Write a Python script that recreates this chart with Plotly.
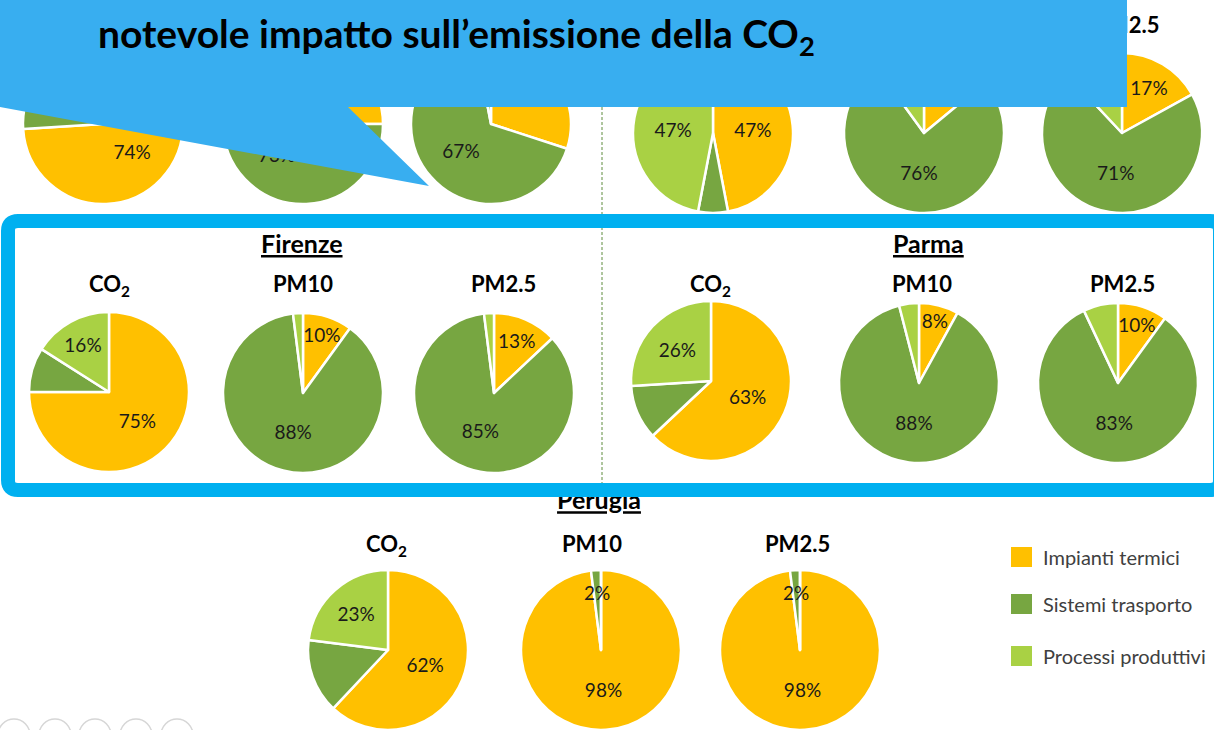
import math
import plotly.graph_objects as go

# ---------------- data ----------------
sources = ["Impianti termici", "Sistemi trasporto", "Processi produttivi"]
source_colors = ["#FFC000", "#77A641", "#A9D144"]
pollutants = ["CO<sub>2</sub>", "PM10", "PM2.5"]
cities = ["Firenze", "Parma", "Perugia"]

# shares (%) per source: [Impianti termici, Sistemi trasporto, Processi produttivi]
topleft_co2 = [74, 10, 16]
topleft_pm10 = [25, 73, 2]
topleft_pm25 = [30, 67, 3]
topright_co2 = [47, 6, 47]
topright_pm10 = [14, 76, 10]
topright_pm25 = [17, 71, 12]
firenze_co2 = [75, 9, 16]
firenze_pm10 = [10, 88, 2]
firenze_pm25 = [13, 85, 2]
parma_co2 = [63, 11, 26]
parma_pm10 = [8, 88, 4]
parma_pm25 = [10, 83, 7]
perugia_co2 = [62, 15, 23]
perugia_pm10 = [98, 2, 0]
perugia_pm25 = [98, 2, 0]

# which slice labels are printed
topleft_co2_lbl = [1, 0, 0]
topleft_pm10_lbl = [0, 1, 0]
topleft_pm25_lbl = [0, 1, 0]
topright_co2_lbl = [1, 0, 1]
topright_pm10_lbl = [0, 1, 0]
topright_pm25_lbl = [1, 1, 0]
firenze_co2_lbl = [1, 0, 1]
firenze_pm10_lbl = [1, 1, 0]
firenze_pm25_lbl = [1, 1, 0]
parma_co2_lbl = [1, 0, 1]
parma_pm10_lbl = [1, 1, 0]
parma_pm25_lbl = [1, 1, 0]
perugia_co2_lbl = [1, 0, 1]
perugia_pm10_lbl = [1, 1, 0]
perugia_pm25_lbl = [1, 1, 0]

# ---------------- layout ----------------
W, H = 1214, 730
R = 80
FONT = "Lato"
LABEL_SIZE = 19
SMALL_SLICE = 5  # slices below this share get their label placed along the slice axis

pie_specs = [
    (topleft_co2, topleft_co2_lbl, 103, 124),
    (topleft_pm10, topleft_pm10_lbl, 303, 124),
    (topleft_pm25, topleft_pm25_lbl, 491, 124),
    (topright_co2, topright_co2_lbl, 713, 133),
    (topright_pm10, topright_pm10_lbl, 924, 133),
    (topright_pm25, topright_pm25_lbl, 1122, 133),
    (firenze_co2, firenze_co2_lbl, 109, 392),
    (firenze_pm10, firenze_pm10_lbl, 303, 393),
    (firenze_pm25, firenze_pm25_lbl, 494, 393),
    (parma_co2, parma_co2_lbl, 711, 381),
    (parma_pm10, parma_pm10_lbl, 919, 383),
    (parma_pm25, parma_pm25_lbl, 1118, 383),
    (perugia_co2, perugia_co2_lbl, 388, 650),
    (perugia_pm10, perugia_pm10_lbl, 601, 650),
    (perugia_pm25, perugia_pm25_lbl, 800, 650),
]

fig = go.Figure()
annotations = []


def txt(x, y, s, size, color="black", xanchor="center"):
    annotations.append(dict(x=x, y=y, xref="x", yref="y", text=s, showarrow=False,
                            xanchor=xanchor, yanchor="middle",
                            font=dict(family=FONT, size=size, color=color)))


for vals, flags, cx, cy in pie_specs:
    positions = []
    total = sum(vals)
    cum = 0
    for v, f in zip(vals, flags):
        if f and v >= SMALL_SLICE:
            positions.append("inside")
        else:
            positions.append("none")
            if f:
                theta = 2 * math.pi * (cum + v / 2) / total
                txt(cx + 0.72 * R * math.sin(theta), cy - 0.72 * R * math.cos(theta),
                    f"{v}%", LABEL_SIZE, color="#1a1a1a")
        cum += v
    fig.add_trace(go.Pie(
        labels=sources, values=vals,
        text=[f"{v}%" for v in vals],
        textinfo="text", textposition=positions, insidetextorientation="horizontal",
        sort=False, direction="clockwise", rotation=0,
        marker=dict(colors=source_colors, line=dict(color="white", width=2.5)),
        textfont=dict(family=FONT, size=LABEL_SIZE, color="#1a1a1a"),
        domain=dict(x=[(cx - R) / W, (cx + R) / W], y=[max(0, 1 - (cy + R) / H), 1 - (cy - R) / H]),
        showlegend=False, hoverinfo="label+percent",
    ))

# texts partially hidden under shapes (drawn as trace text so shapes can cover them)
fig.add_trace(go.Scatter(
    x=[1127, 599], y=[27, 503], mode="text",
    text=["<b>" + pollutants[2] + "</b>", "<b><u>" + cities[2] + "</u></b>"],
    textfont=dict(family=FONT, size=[22, 25], color="black"),
    showlegend=False, hoverinfo="skip",
))

# title on the callout
txt(456, 36, "<b>notevole impatto sull’emissione della CO<sub>2</sub></b>", 39)

# city headings
txt(302, 243, "<b><u>" + cities[0] + "</u></b>", 25)
txt(928, 243, "<b><u>" + cities[1] + "</u></b>", 25)

# pollutant subtitles
for (x, y), p in zip([(109, 285), (303, 283), (503, 283)], pollutants):
    txt(x, y, "<b>" + p + "</b>", 22)
for (x, y), p in zip([(710, 285), (922, 283), (1122, 283)], pollutants):
    txt(x, y, "<b>" + p + "</b>", 22)
for (x, y), p in zip([(386, 545), (592, 543), (797, 543)], pollutants):
    txt(x, y, "<b>" + p + "</b>", 22)

shapes = []
# legend
for i, (name, col) in enumerate(zip(sources, source_colors)):
    yc = [557, 604, 656][i]
    shapes.append(dict(type="rect", xref="x", yref="y", x0=1011, x1=1032, y0=yc - 10, y1=yc + 10,
                       fillcolor=col, line=dict(width=0), layer="above"))
    txt(1041, yc, name, 20, color="#404040", xanchor="left")

# dashed separator
shapes.append(dict(type="line", xref="x", yref="y", x0=602, x1=602, y0=107, y1=484,
                   line=dict(color="#5E8C3E", width=1, dash="3px,2px"), layer="above"))

# highlighted box (rounded)
x0, x1, y0, y1, rr = 8, 1220, 221, 490, 10
box_path = (f"M{x0+rr},{y0} L{x1-rr},{y0} Q{x1},{y0} {x1},{y0+rr} L{x1},{y1-rr} Q{x1},{y1} {x1-rr},{y1} "
            f"L{x0+rr},{y1} Q{x0},{y1} {x0},{y1-rr} L{x0},{y0+rr} Q{x0},{y0} {x0+rr},{y0} Z")
shapes.append(dict(type="path", xref="x", yref="y", path=box_path,
                   line=dict(color="#00B0F0", width=14), fillcolor="rgba(0,0,0,0)", layer="above"))

# callout
shapes.append(dict(type="path", xref="x", yref="y",
                   path="M0,0 L1127,0 L1127,107 L348,107 L429,186 L0,107 Z",
                   fillcolor="#38AEF0", line=dict(width=0), layer="above"))

# faint slideshow controls
for cx in [14, 55, 95, 136, 177]:
    shapes.append(dict(type="circle", xref="x", yref="y", x0=cx - 16, x1=cx + 16, y0=719, y1=751,
                       line=dict(color="#D6D6D6", width=1.5), fillcolor="rgba(0,0,0,0)", layer="above"))

fig.update_layout(
    width=W, height=H, margin=dict(l=0, r=0, t=0, b=0),
    paper_bgcolor="white", plot_bgcolor="white",
    xaxis=dict(range=[0, W], visible=False, fixedrange=True, domain=[0, 1]),
    yaxis=dict(range=[H, 0], visible=False, fixedrange=True, domain=[0, 1]),
    uniformtext=dict(minsize=LABEL_SIZE, mode="show"),
    shapes=shapes, annotations=annotations, showlegend=False,
)

fig.write_html("out.html", config={"displayModeBar": False},
               post_script="document.body.style.margin='0';document.body.style.overflow='hidden';")
